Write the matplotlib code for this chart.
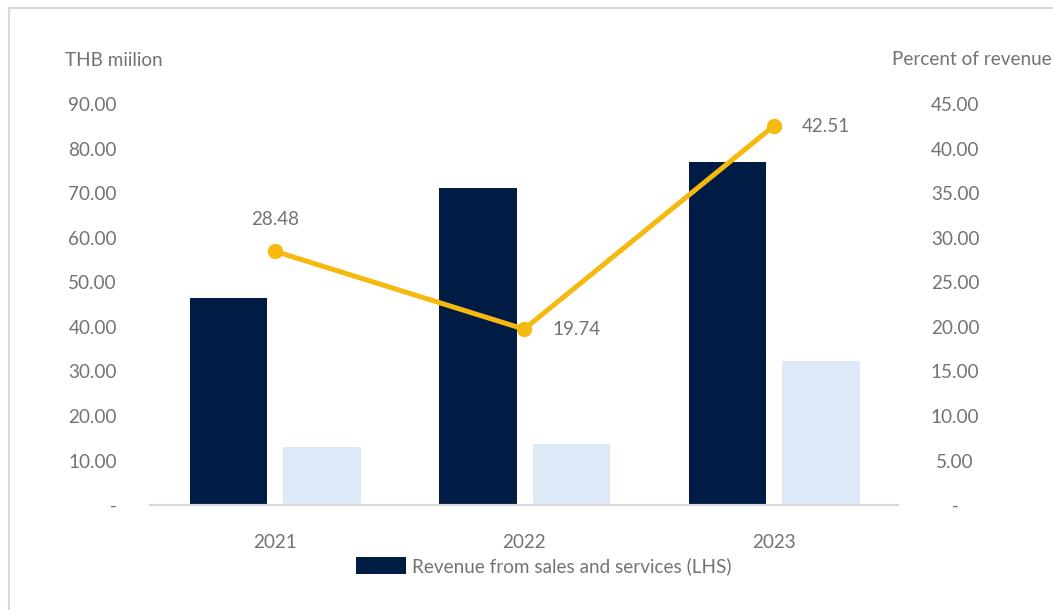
import numpy as np
import matplotlib.pyplot as plt
from matplotlib.lines import Line2D

# chart data
years = ['2021', '2022', '2023']
revenue = [46.5, 71.1, 77.0]          # LHS, THB million
second_series = [13.0, 13.7, 32.3]    # LHS, unlabelled light bars
percent = [28.48, 19.74, 42.51]       # RHS, percent of revenue

left_ticks = [0, 10, 20, 30, 40, 50, 60, 70, 80, 90]
right_ticks = [0, 5, 10, 15, 20, 25, 30, 35, 40, 45]

NAVY = '#001c44'
LIGHT = '#dde9f6'
GOLD = '#f5b90f'
GREY = '#737373'
FS = 13.6

plt.rcParams['font.family'] = ['Lato', 'DejaVu Sans']

fig = plt.figure(figsize=(10.53, 6.10), dpi=100)
ax = fig.add_axes([0.1425, 0.172, 0.7105, 0.6575])
ax2 = ax.twinx()

x = np.arange(len(years))
w = 0.31
ax.bar(x - 0.185, revenue, w, color=NAVY, label='Revenue from sales and services (LHS)', zorder=2)
ax.bar(x + 0.19, second_series, w, color=LIGHT, zorder=2)

ax.set_xlim(-0.5, 2.5)
ax.set_ylim(0, 90)
ax2.set_ylim(0, 45)

def fmt(v):
    return '-' if v == 0 else f'{v:.2f}'

ax.set_yticks(left_ticks)
ax.set_yticklabels([fmt(v) for v in left_ticks])
ax2.set_yticks(right_ticks)
ax2.set_yticklabels([fmt(v) for v in right_ticks], ha='center')

ax.set_xticks(x)
ax.set_xticklabels(years)

for a in (ax, ax2):
    for s in ('top', 'left', 'right'):
        a.spines[s].set_visible(False)
    a.spines['bottom'].set_color('#d9d9d9')
    a.spines['bottom'].set_linewidth(1.5)
    a.tick_params(length=0, colors=GREY, labelsize=FS)

ax.tick_params(axis='y', pad=24)
ax.tick_params(axis='x', pad=21)
ax2.tick_params(axis='y', pad=41)

ax2.plot(x, percent, color=GOLD, lw=3.6, marker='o', markersize=10, zorder=3)
ax2.annotate(f'{percent[0]:.2f}', (x[0], percent[0]), xytext=(0, 23), textcoords='offset points',
             ha='center', va='center', color=GREY, fontsize=FS)
for i in (1, 2):
    ax2.annotate(f'{percent[i]:.2f}', (x[i], percent[i]), xytext=(38, 0), textcoords='offset points',
                 ha='center', va='center', color=GREY, fontsize=FS)

fig.text(0.062, 0.9, 'THB miilion', color=GREY, fontsize=FS, va='center')
fig.text(0.999, 0.903, 'Percent of revenue', color=GREY, fontsize=FS, va='center', ha='right')

ax.legend(loc='center', bbox_to_anchor=(0.516, 0.072), bbox_transform=fig.transFigure,
          frameon=False, fontsize=FS, labelcolor=GREY, handlelength=2.66, handleheight=0.95,
          handletextpad=0.3)

# outer frame
fig.add_artist(Line2D([0.0085, 0.0085], [0, 0.987], color='#d9d9d9', lw=1.5, transform=fig.transFigure))
fig.add_artist(Line2D([0.0085, 1.0], [0.987, 0.987], color='#d9d9d9', lw=1.5, transform=fig.transFigure))

fig.savefig('out.png', dpi=100)
